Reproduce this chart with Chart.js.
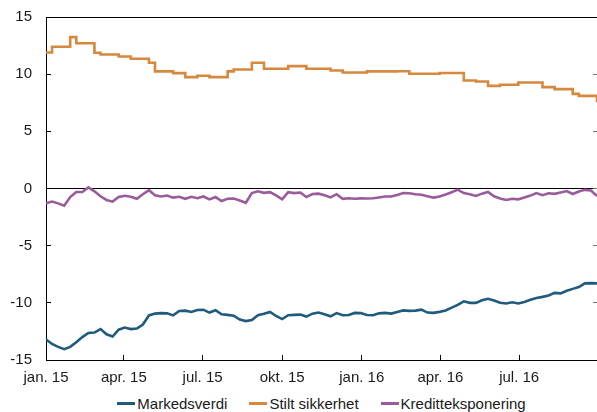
<!DOCTYPE html>
<html>
<head>
<meta charset="utf-8">
<script src="https://cdn.jsdelivr.net/npm/chart.js@4.4.0/dist/chart.umd.min.js"></script>
<style>
  html, body { margin: 0; padding: 0; background: #fff; overflow: hidden; }
  #wrap { position: relative; width: 597px; height: 412px; }
  canvas { display: block; }
  #legend {
    position: absolute; left: 46px; right: 0; top: 394px; height: 18px;
    display: flex; justify-content: center; align-items: center;
    font: 15px "Liberation Sans", Arial, sans-serif; color: #1a1a1a;
  }
  #legend .item { display: flex; align-items: center; margin: 0 11px; white-space: nowrap; }
  #legend .swatch { width: 18px; height: 3px; margin-right: 2px; }
</style>
</head>
<body>
<div id="wrap">
  <canvas id="chart" width="597" height="392"></canvas>
  <div id="legend"></div>
</div>
<script>
// ukentlige observasjoner fra 1. januar 2015, mrd. kroner
const startDato = Date.UTC(2015, 0, 1);
const dagMs = 86400000;
const ukeSteg = 7;
const sisteDag = 637;

const markedsverdi = [
  -13.2, -13.6, -13.85, -14.05, -13.85, -13.45, -13.0, -12.63, -12.6, -12.3,
  -12.75, -12.95, -12.35, -12.16, -12.3, -12.25, -11.9, -11.1, -10.94, -10.9,
  -10.92, -11.1, -10.71, -10.68, -10.8, -10.62, -10.6, -10.85, -10.65, -11.0,
  -11.05, -11.12, -11.46, -11.6, -11.5, -11.08, -10.96, -10.8, -11.15, -11.42,
  -11.08, -11.05, -11.03, -11.2, -10.95, -10.85, -11.0, -11.18, -10.9, -11.08,
  -11.06, -10.88, -10.9, -11.06, -11.08, -10.92, -10.88, -10.94, -10.8, -10.66,
  -10.7, -10.68, -10.6, -10.85, -10.88, -10.79, -10.67, -10.42, -10.18, -9.87,
  -10.0, -10.0, -9.77, -9.65, -9.8, -10.0, -10.06, -9.95, -10.05, -9.92,
  -9.73, -9.57, -9.48, -9.36, -9.13, -9.17, -8.95, -8.78, -8.62, -8.3,
  -8.28, -8.3
];

const stiltSikkerhet = [
  11.9, 12.4, 12.4, 12.4, 13.24, 12.7, 12.7, 12.7, 11.87, 11.72,
  11.72, 11.72, 11.55, 11.55, 11.35, 11.35, 11.35, 11.0, 10.24, 10.24,
  10.24, 10.09, 10.09, 9.74, 9.74, 9.86, 9.86, 9.74, 9.74, 9.74,
  10.24, 10.41, 10.41, 10.41, 11.0, 11.0, 10.47, 10.47, 10.47, 10.47,
  10.7, 10.7, 10.7, 10.47, 10.47, 10.47, 10.47, 10.32, 10.32, 10.15,
  10.15, 10.15, 10.15, 10.24, 10.24, 10.24, 10.24, 10.24, 10.26, 10.26,
  10.03, 10.03, 10.03, 10.03, 10.03, 10.1, 10.1, 10.1, 10.1, 9.45,
  9.45, 9.36, 9.36, 8.98, 8.98, 9.07, 9.07, 9.07, 9.27, 9.27,
  9.27, 9.27, 8.87, 8.87, 8.69, 8.69, 8.69, 8.28, 8.1, 8.1,
  8.1, 7.55
];

const kreditteksponering = [
  -1.3, -1.14, -1.3, -1.5, -0.75, -0.3, -0.3, 0.1, -0.25, -0.68,
  -1.0, -1.15, -0.75, -0.63, -0.72, -0.9, -0.5, -0.15, -0.6, -0.7,
  -0.62, -0.8, -0.72, -0.9, -0.72, -0.85, -0.7, -0.95, -0.75, -1.1,
  -0.9, -0.88, -1.05, -1.25, -0.4, -0.25, -0.38, -0.32, -0.6, -0.95,
  -0.32, -0.4, -0.35, -0.75, -0.48, -0.45, -0.6, -0.78, -0.5, -0.9,
  -0.85, -0.9, -0.86, -0.88, -0.85, -0.78, -0.7, -0.7, -0.56, -0.4,
  -0.42, -0.5, -0.55, -0.68, -0.8, -0.7, -0.52, -0.33, -0.1, -0.4,
  -0.5, -0.65, -0.45, -0.3, -0.68, -0.87, -1.0, -0.9, -0.95, -0.78,
  -0.62, -0.4, -0.58, -0.42, -0.47, -0.35, -0.22, -0.48, -0.27, -0.12,
  -0.18, -0.65
];

const kvartalDatoer = ['2015-01-01', '2015-04-01', '2015-07-01', '2015-10-01',
                       '2016-01-01', '2016-04-01', '2016-07-01'];
const kvartalEtiketter = ['jan. 15', 'apr. 15', 'jul. 15', 'okt. 15',
                          'jan. 16', 'apr. 16', 'jul. 16'];

const font = { family: '"Liberation Sans", Arial, sans-serif', size: 15 };
const tekstfarge = '#1a1a1a';

function dagNr(iso) {
  return Math.round((Date.parse(iso) - startDato) / dagMs);
}
const kvartalDager = kvartalDatoer.map(dagNr);

function punkter(verdier) {
  return verdier.map((v, i) => ({ x: i * ukeSteg, y: v }));
}

// aksene skal ikke skyve plottet innover for etikettene
function utenKantpadding(s) {
  s.paddingTop = 0;
  s.paddingBottom = 0;
  s.paddingLeft = 0;
  s.paddingRight = 0;
}

const chart = new Chart(document.getElementById('chart'), {
  type: 'line',
  data: {
    datasets: [
      { label: 'Markedsverdi', data: punkter(markedsverdi), borderColor: '#1f5b7c' },
      { label: 'Stilt sikkerhet', data: punkter(stiltSikkerhet), borderColor: '#d6883c', stepped: true },
      { label: 'Kreditteksponering', data: punkter(kreditteksponering), borderColor: '#9b5a9b' }
    ]
  },
  options: {
    responsive: false,
    animation: false,
    devicePixelRatio: 1,
    layout: { padding: { top: 17, right: 0, bottom: 0, left: 0 } },
    elements: {
      point: { radius: 0 },
      line: { borderWidth: 2.6, tension: 0, fill: false }
    },
    plugins: { legend: { display: false }, tooltip: { enabled: false } },
    scales: {
      x: {
        type: 'linear', position: 'bottom', min: 0, max: sisteDag,
        afterBuildTicks: s => { s.ticks = kvartalDager.map(v => ({ value: v })); },
        afterFit: s => { s.height = 32; utenKantpadding(s); },
        ticks: {
          autoSkip: false, maxRotation: 0, padding: 13.5, color: tekstfarge, font,
          callback: (v, i) => kvartalEtiketter[i]
        },
        grid: { drawOnChartArea: false, drawTicks: true, tickLength: -5, color: '#000' },
        border: { display: true, color: '#000', width: 1 }
      },
      xTopp: {
        type: 'linear', position: 'top', min: 0, max: sisteDag,
        afterFit: s => { s.height = 0; utenKantpadding(s); },
        ticks: { display: false },
        grid: { display: false },
        border: { display: true, color: '#000', width: 1 }
      },
      y: {
        position: 'left', min: -15, max: 15,
        afterFit: s => { s.width = 46; utenKantpadding(s); },
        ticks: { stepSize: 5, padding: 19, color: tekstfarge, font, callback: v => String(v) },
        grid: {
          drawTicks: true, tickLength: -5, tickColor: '#000',
          color: c => (c.tick && c.tick.value === 0 ? '#000' : 'rgba(0,0,0,0)')
        },
        border: { display: true, color: '#000', width: 1 }
      },
      yHoyre: {
        position: 'right', min: -15, max: 15,
        afterFit: s => { s.width = 0; utenKantpadding(s); },
        ticks: { stepSize: 5, display: false },
        grid: { drawOnChartArea: false, drawTicks: true, tickLength: -4, color: '#777' },
        border: { display: false }
      }
    }
  }
});

// forklaring under diagrammet
const legend = document.getElementById('legend');
chart.data.datasets.forEach(ds => {
  const item = document.createElement('span');
  item.className = 'item';
  const swatch = document.createElement('span');
  swatch.className = 'swatch';
  swatch.style.background = ds.borderColor;
  item.appendChild(swatch);
  item.appendChild(document.createTextNode(ds.label));
  legend.appendChild(item);
});
</script>
</body>
</html>
